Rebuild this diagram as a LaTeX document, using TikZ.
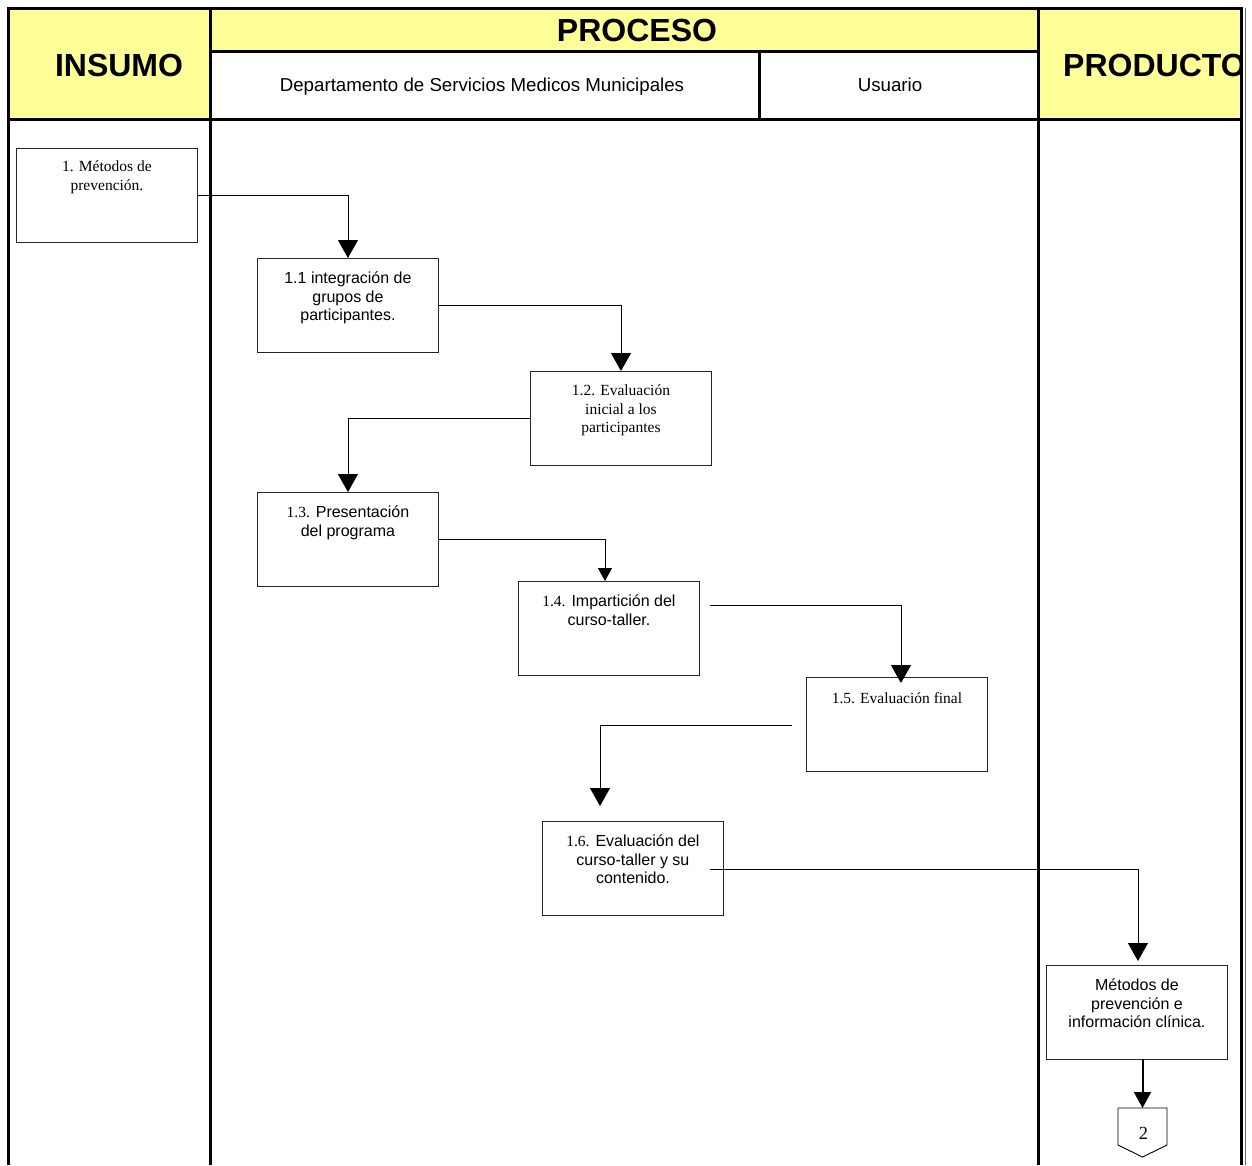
\documentclass[tikz,border=0pt]{standalone}
\usepackage{fontspec}
\setmainfont{Liberation Sans}
\newfontfamily\serifface{Liberation Serif}
\usetikzlibrary{arrows.meta}
\definecolor{cellyellow}{HTML}{FFFF99}

\begin{document}
\begin{tikzpicture}[x=1pt,y=-1pt,
  frame/.style={line width=3pt},
  box/.style={draw=black!85, line width=0.9pt, rectangle, inner sep=0pt,
    minimum width=181pt, minimum height=94pt, anchor=north west},
  boxtext/.style={anchor=north, inner sep=0pt, align=center,
    font=\fontsize{16}{18.5}\selectfont},
  sertext/.style={boxtext, font=\serifface\fontsize{15.5}{18.5}\selectfont},
  flow/.style={line width=0.9pt, -{Triangle[length=18pt,width=20pt]}},
  smallflow/.style={line width=0.9pt, -{Triangle[length=13pt,width=14pt]}},
  title/.style={inner sep=0pt, font=\bfseries\fontsize{32}{32}\selectfont},
  lane/.style={inner sep=0pt, font=\fontsize{18.7}{18.7}\selectfont}]

\useasboundingbox (0,0) rectangle (1252,1165);
\fill[white] (0,0) rectangle (1252,1165);

% header cells
\fill[cellyellow] (8,8) rectangle (210,119);
\fill[cellyellow] (210,8) rectangle (1038,51);
\fill[cellyellow] (1038,8) rectangle (1241,119);

\node[title] (insumo) at (119,65.5) {INSUMO};
\node[title] (proceso) at (637,30.5) {PROCESO};
\begin{scope}
  \clip (1038,8) rectangle (1240,119);
  \node[title, anchor=west] (producto) at (1063,65.5) {PRODUCTO};
\end{scope}
\node[lane, anchor=base] (depto) at (482,91) {Departamento de Servicios Medicos Municipales};
\node[lane, anchor=base] (usuario) at (890,91.5) {Usuario};

% swimlane frame
\draw[frame] (8,1165) -- (8,8) -- (1241,8) -- (1241,1165);
\draw[frame] (210,8) -- (210,1165);
\draw[frame] (1038,8) -- (1038,1165);
\draw[frame] (210,51) -- (1038,51);
\draw[frame] (759,51) -- (759,119);
\draw[frame] (8,119) -- (1241,119);
\draw[black!60, line width=0.8pt] (1245.5,8) -- (1245.5,1165);

% process boxes
\node[box] (b1)  at (16,148)  {};
\node[box] (b11) at (257,258) {};
\node[box] (b12) at (530,371) {};
\node[box] (b13) at (257,492) {};
\node[box] (b14) at (518,581) {};
\node[box] (b15) at (806,677) {};
\node[box] (b16) at (542,821) {};
\node[box] (bp)  at (1046,965) {};

\node[sertext] (t1)  at ([yshift=-13pt]b1.north)  {1. Métodos de\\prevención.};
\node[boxtext] (t11) at ([yshift=-14pt]b11.north) {1.1 integración de\\grupos de\\participantes.};
\node[sertext] (t12) at ([yshift=-14pt]b12.north) {1.2. Evaluación\\inicial a los\\participantes};
\node[boxtext] (t13) at ([yshift=-14pt]b13.north) {{\serifface\fontsize{15.5}{18.5}\selectfont 1.3.} Presentación\\del programa};
\node[boxtext] (t14) at ([yshift=-14pt]b14.north) {{\serifface\fontsize{15.5}{18.5}\selectfont 1.4.} Impartición del\\curso-taller.};
\node[sertext] (t15) at ([yshift=-15pt]b15.north) {1.5. Evaluación final};
\node[boxtext] (t16) at ([yshift=-14pt]b16.north) {{\serifface\fontsize{15.5}{18.5}\selectfont 1.6.} Evaluación del\\curso-taller y su\\contenido.};
\node[boxtext] (tp)  at ([yshift=-14pt]bp.north)  {Métodos de\\prevención e\\información clínica.};

% off-page connector
\draw[black, line width=0.9pt] (1118,1108) -- (1167,1108) -- (1167,1145) -- (1142.5,1157) -- (1118,1145) -- cycle;
\node[inner sep=0pt, font=\serifface\fontsize{18.5}{18.5}\selectfont] (pg2) at (1143.5,1133) {2};
\coordinate (pg2top) at (1142.5,1108);

% connector end points
\coordinate (s5) at (710,605);
\coordinate (s6) at (792,725);
\coordinate (t6) at (600,806);
\coordinate (s7) at (710,869);
\coordinate (bpout) at (1142.5,1059);

% flow connectors
\draw[flow] (b1.east) -| (b11.north);
\draw[flow] (b11.east) -| (b12.north);
\draw[flow] (b12.west) -| (b13.north);
\draw[smallflow] (b13.east) -| ([xshift=-4pt]b14.north);
\draw[flow] (s5) -| ([xshift=4pt,yshift=-6pt]b15.north);
\draw[flow] (s6) -| (t6);
\draw[flow] (s7) -| ([xshift=1pt,yshift=4pt]bp.north);
\draw[line width=2pt, -{Triangle[length=16pt,width=17pt]}] (bpout) -- (pg2top);

\end{tikzpicture}
\end{document}
